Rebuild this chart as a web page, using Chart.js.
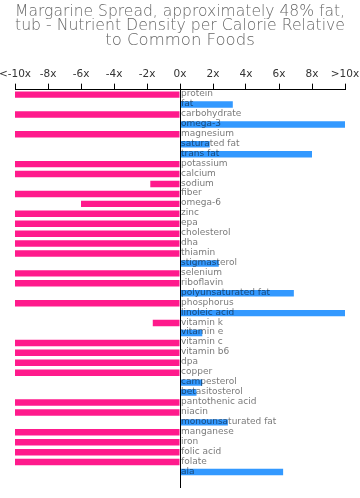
<!DOCTYPE html>
<html>
<head>
<meta charset="utf-8">
<script src="https://cdn.jsdelivr.net/npm/chart.js@4/dist/chart.umd.min.js"></script>
<style>
  html, body { margin: 0; padding: 0; background: #fff; }
  #wrap { width: 360px; height: 498px; position: relative; }
</style>
</head>
<body>
<div id="wrap"><canvas id="c" width="360" height="498"></canvas></div>
<script>
const titleLines = [
  "Margarine Spread, approximately 48% fat,",
  "tub - Nutrient Density per Calorie Relative",
  "to Common Foods"
];
const categories = [
  "protein", "fat", "carbohydrate", "omega-3", "magnesium", "saturated fat",
  "trans fat", "potassium", "calcium", "sodium", "fiber", "omega-6", "zinc",
  "epa", "cholesterol", "dha", "thiamin", "stigmasterol", "selenium",
  "riboflavin", "polyunsaturated fat", "phosphorus", "linoleic acid",
  "vitamin k", "vitamin e", "vitamin c", "vitamin b6", "dpa", "copper",
  "campesterol", "betasitosterol", "pantothenic acid", "niacin",
  "monounsaturated fat", "manganese", "iron", "folic acid", "folate", "ala"
];
const values = [
  -10, 3.2, -10, 10, -10, 1.8,
  8, -10, -10, -1.8, -10, -6, -10,
  -10, -10, -10, -10, 2.35, -10,
  -10, 6.9, -10, 10,
  -1.65, 1.35, -10, -10, -10, -10,
  1.35, 1.0, -10, -10,
  2.9, -10, -10, -10, -10, 6.25
];
const xTickValues = [-10, -8, -6, -4, -2, 0, 2, 4, 6, 8, 10];
const xTickLabels = ["<-10x", "-8x", "-6x", "-4x", "-2x", "0x", "2x", "4x", "6x", "8x", ">10x"];

const NEG_COLOR = "#ff1a8c";
const POS_COLOR = "#3399ff";
const FONT = "'DejaVu Sans', sans-serif";

const labelPlugin = {
  id: "catLabels",
  afterDatasetsDraw(chart) {
    const ctx = chart.ctx;
    const xs = chart.scales.x, ys = chart.scales.y;
    const x0 = Math.round(xs.getPixelForValue(0));
    ctx.save();
    ctx.font = "9px " + FONT;
    ctx.fillStyle = "rgba(0,0,0,0.55)";
    ctx.textAlign = "left";
    ctx.textBaseline = "alphabetic";
    categories.forEach((c, i) => {
      ctx.fillText(c, x0 + 1, ys.getPixelForValue(i) + 1.5);
    });
    ctx.strokeStyle = "#000";
    ctx.lineWidth = 1;
    ctx.beginPath();
    ctx.moveTo(x0 + 0.5, xs.bottom);
    ctx.lineTo(x0 + 0.5, chart.chartArea.bottom + 11);
    ctx.stroke();
    ctx.restore();
  }
};

new Chart(document.getElementById("c"), {
  type: "bar",
  data: {
    labels: categories,
    datasets: [{
      data: values,
      backgroundColor: (c) => (c.raw < 0 ? NEG_COLOR : POS_COLOR),
      borderWidth: 0,
      barPercentage: 0.65,
      categoryPercentage: 1.0
    }]
  },
  options: {
    indexAxis: "y",
    responsive: false,
    animation: false,
    devicePixelRatio: 1,
    layout: { padding: { left: 15, right: 15, top: 0, bottom: 21 } },
    plugins: {
      legend: { display: false },
      tooltip: { enabled: false },
      title: {
        display: true,
        text: titleLines,
        color: "#666",
        font: { family: FONT, size: 16.5, weight: 200, lineHeight: 0.89 },
        padding: { top: 4, bottom: 17 }
      }
    },
    scales: {
      x: {
        type: "linear",
        position: "top",
        min: -10,
        max: 10,
        afterBuildTicks(scale) {
          scale.ticks = xTickValues.map(v => ({ value: v }));
        },
        afterFit(scale) {
          scale.paddingLeft = 0;
          scale.paddingRight = 0;
        },
        ticks: {
          color: "#333",
          font: { family: FONT, size: 10.5 },
          padding: 3,
          maxRotation: 0,
          autoSkip: false,
          callback: (v, i) => xTickLabels[i]
        },
        grid: {
          drawOnChartArea: false,
          drawTicks: true,
          tickLength: 6,
          color: "#000",
          lineWidth: 1
        },
        border: { display: true, color: "#000", width: 1 }
      },
      y: {
        type: "category",
        display: false
      }
    }
  },
  plugins: [labelPlugin]
});
</script>
</body>
</html>
